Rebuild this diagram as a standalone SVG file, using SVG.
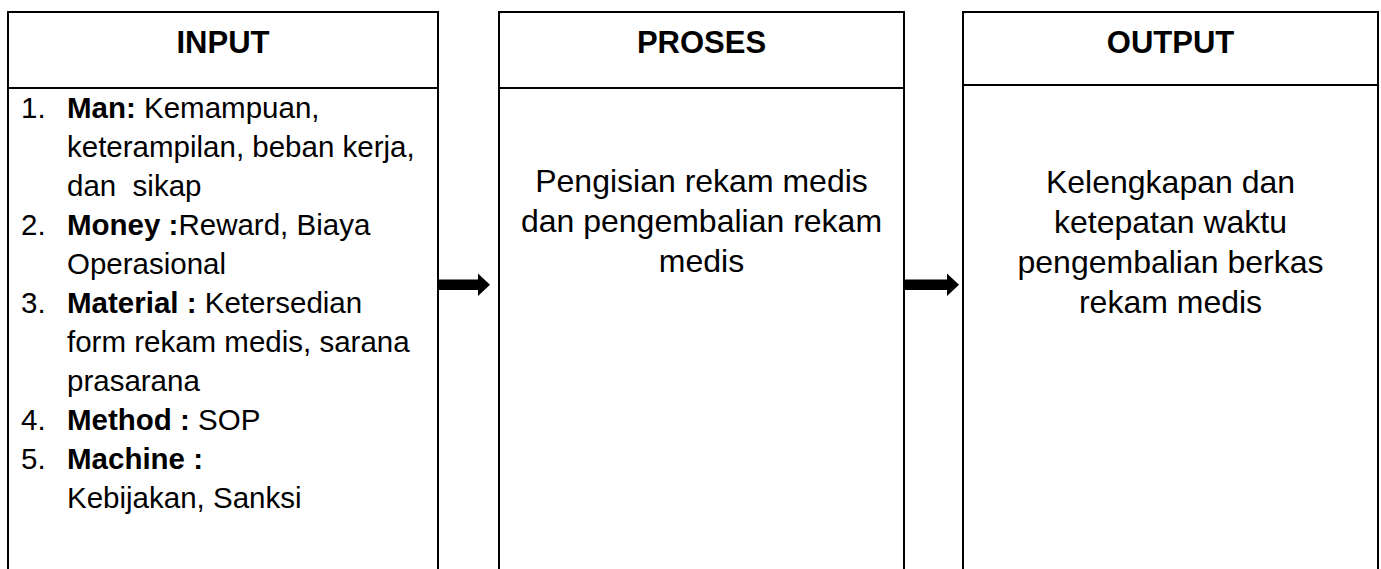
<svg xmlns="http://www.w3.org/2000/svg" width="1381" height="569" viewBox="0 0 1381 569">
  <style>
    .frame { fill: none; stroke: #000; stroke-width: 2; }
    .head { font-family: "Liberation Sans", Arial, sans-serif; font-weight: bold; font-size: 31px; fill: #000; text-anchor: middle; }
    .list { font-family: "Liberation Sans", Arial, sans-serif; font-size: 29.5px; fill: #000; }
    .body { font-family: "Liberation Sans", Arial, sans-serif; font-size: 32px; fill: #000; text-anchor: middle; }
    .b { font-weight: bold; }
    .arrow { fill: #000; stroke: none; }
  </style>
  <rect width="1381" height="569" fill="#fff"/>

  <!-- INPUT column -->
  <g id="input">
    <path class="frame" d="M8 569 V12 H438 V569"/>
    <line class="frame" x1="8" y1="88" x2="438" y2="88"/>
    <text class="head" x="223" y="53">INPUT</text>
    <g class="list">
      <text x="21" y="118">1.</text>
      <text x="67" y="118"><tspan class="b">Man:</tspan> Kemampuan,</text>
      <text x="67" y="157">keterampilan, beban kerja,</text>
      <text x="67" y="196" xml:space="preserve">dan  sikap</text>
      <text x="21" y="235">2.</text>
      <text x="67" y="235"><tspan class="b">Money :</tspan>Reward, Biaya</text>
      <text x="67" y="274">Operasional</text>
      <text x="21" y="313">3.</text>
      <text x="67" y="313"><tspan class="b">Material :</tspan> Ketersedian</text>
      <text x="67" y="352">form rekam medis, sarana</text>
      <text x="67" y="391">prasarana</text>
      <text x="21" y="430">4.</text>
      <text x="67" y="430"><tspan class="b">Method :</tspan> SOP</text>
      <text x="21" y="469">5.</text>
      <text x="67" y="469"><tspan class="b">Machine :</tspan></text>
      <text x="67" y="508">Kebijakan, Sanksi</text>
    </g>
  </g>

  <!-- PROSES column -->
  <g id="proses">
    <path class="frame" d="M499 569 V12 H904 V569"/>
    <line class="frame" x1="499" y1="88" x2="904" y2="88"/>
    <text class="head" x="701.5" y="53">PROSES</text>
    <text class="body" x="701.5" y="192">Pengisian rekam medis</text>
    <text class="body" x="701.5" y="232">dan pengembalian rekam</text>
    <text class="body" x="701.5" y="272">medis</text>
  </g>

  <!-- OUTPUT column -->
  <g id="output">
    <path class="frame" d="M963 569 V12 H1378 V569"/>
    <line class="frame" x1="963" y1="85" x2="1378" y2="85"/>
    <text class="head" x="1170.5" y="53">OUTPUT</text>
    <text class="body" x="1170.5" y="193">Kelengkapan dan</text>
    <text class="body" x="1170.5" y="233">ketepatan waktu</text>
    <text class="body" x="1170.5" y="273">pengembalian berkas</text>
    <text class="body" x="1170.5" y="313">rekam medis</text>
  </g>

  <!-- block arrows between columns -->
  <g id="connectors">
    <polygon class="arrow" points="439,279.5 478,279.5 478,273.5 490,284.7 478,296 478,290 439,290"/>
    <polygon class="arrow" points="904,279.5 947,279.5 947,273.5 959,284.7 947,296 947,290 904,290"/>
  </g>
</svg>
